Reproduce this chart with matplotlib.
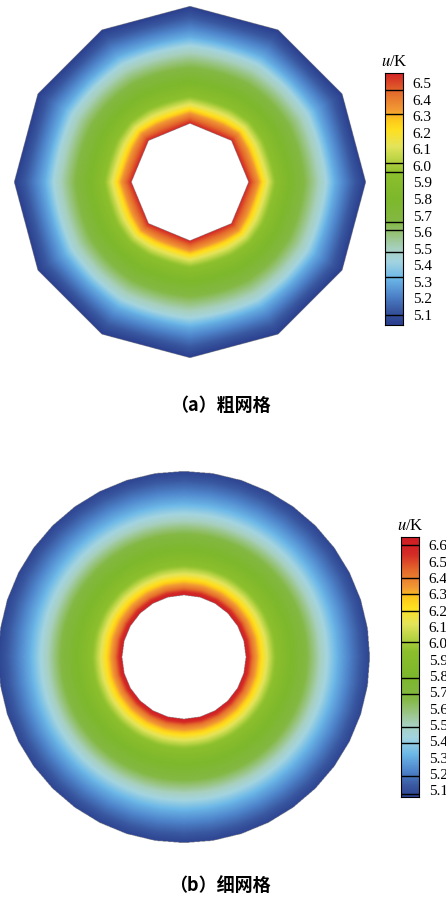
import numpy as np
import matplotlib
matplotlib.use("Agg")
import matplotlib.pyplot as plt
import matplotlib.tri as mtri
from matplotlib.colors import LinearSegmentedColormap, Normalize

plt.rcParams['mathtext.fontset'] = 'stix'

# --- radial temperature profile (s = 0 inner wall, 1 outer wall)
coarse_s = [0.0, 0.09, 0.14, 0.23, 0.35, 0.49, 0.66, 0.75, 0.87, 1.0]
coarse_u = [6.56, 6.35, 6.20, 5.97, 5.82, 5.66, 5.45, 5.30, 5.17, 5.04]
fine_s = [0.0, 0.06, 0.14, 0.23, 0.35, 0.48, 0.63, 0.74, 0.87, 1.0]
fine_u = [6.65, 6.42, 6.20, 5.97, 5.82, 5.68, 5.46, 5.31, 5.18, 5.06]

# polygon sides of the inner / outer boundary
coarse_sides = (8, 12)
fine_sides = (24, 40)

# colorbar ranges, contour-level lines and labels
coarse_range = (5.04, 6.56)
coarse_levels = [6.46, 6.31, 6.015, 5.96, 5.66, 5.61, 5.48, 5.33, 5.10]
coarse_ticks = [6.5, 6.4, 6.3, 6.2, 6.1, 6.0, 5.9, 5.8, 5.7, 5.6, 5.5, 5.4, 5.3, 5.2, 5.1]
fine_range = (5.06, 6.65)
fine_levels = [6.60, 6.40, 6.30, 6.20, 6.006, 5.79, 5.69, 5.49, 5.39, 5.19, 5.08]
fine_ticks = [6.6, 6.5, 6.4, 6.3, 6.2, 6.1, 6.0, 5.9, 5.8, 5.7, 5.6, 5.5, 5.4, 5.3, 5.2, 5.1]

captions = ["（a）粗网格", "（b）细网格"]

# Tecplot-like palette, stops given in absolute u
cmap_u = [5.04, 5.12, 5.22, 5.32, 5.42, 5.50, 5.58, 5.66, 5.80, 5.95,
          6.02, 6.12, 6.22, 6.28, 6.34, 6.45, 6.55, 6.66]
cmap_c = ['#2b3f8e', '#38569f', '#4f86cc', '#6cb8e8', '#a3d4e0', '#a8d0c0',
          '#98c480', '#84b844', '#7db82c', '#8cbf2c', '#b0d040', '#e4e45a',
          '#ffe020', '#fdc81a', '#f29a34', '#e46a2c', '#d42a26', '#d01c24']
U_LO, U_HI = cmap_u[0], cmap_u[-1]
cmap = LinearSegmentedColormap.from_list(
    'tec', [((u - U_LO) / (U_HI - U_LO), c) for u, c in zip(cmap_u, cmap_c)], N=512)
norm = Normalize(U_LO, U_HI)

R_IN, R_OUT = 1.0, 3.0


def poly_radius(theta, n, R):
    # distance from centre to a regular n-gon edge (vertex pointing up)
    step = 2 * np.pi / n
    t = np.mod(theta - np.pi / 2, step) - step / 2
    return R * np.cos(np.pi / n) / np.cos(t)


def draw_ring(ax, s_vals, u_vals, sides):
    theta = np.deg2rad(np.arange(0, 360, 1.5))
    n_t = len(theta)
    r_in = poly_radius(theta, sides[0], R_IN)
    r_out = poly_radius(theta, sides[1], R_OUT)
    xs, ys, us = [], [], []
    for s, u in zip(s_vals, u_vals):
        r_poly = (1 - s) * r_in + s * r_out
        r_circ = (1 - s) * R_IN * np.cos(np.pi / sides[0]) ** 0.5 + s * R_OUT * np.cos(np.pi / sides[1]) ** 0.5
        w = 0.7 * np.sin(np.pi * s)          # interior iso-lines are rounder
        r = (1 - w) * r_poly + w * r_circ
        xs.append(r * np.cos(theta))
        ys.append(r * np.sin(theta))
        us.append(np.full(n_t, u))
    x = np.concatenate(xs); y = np.concatenate(ys); z = np.concatenate(us)
    tris = []
    for i in range(len(s_vals) - 1):
        for j in range(n_t):
            a = i * n_t + j
            b = i * n_t + (j + 1) % n_t
            c = (i + 1) * n_t + j
            d = (i + 1) * n_t + (j + 1) % n_t
            tris.append([a, b, d])
            tris.append([a, d, c])
    tri = mtri.Triangulation(x, y, np.array(tris))
    # sample the linear (per-element) field on a fine grid
    interp = mtri.LinearTriInterpolator(tri, z)
    g = np.linspace(-R_OUT, R_OUT, 900)
    gx, gy = np.meshgrid(g, g)
    field = interp(gx, gy)
    ax.imshow(field, extent=[-R_OUT, R_OUT, -R_OUT, R_OUT], origin='lower',
              cmap=cmap, norm=norm, interpolation='bilinear')
    ax.set_xlim(-R_OUT, R_OUT)
    ax.set_ylim(-R_OUT, R_OUT)
    ax.set_aspect('equal')
    ax.axis('off')


def draw_cbar(cax, vrange, levels, ticks):
    lo, hi = vrange
    grad = np.linspace(lo, hi, 300)[:, None]
    cax.imshow(grad, extent=[0, 1, lo, hi], origin='lower', aspect='auto',
               cmap=cmap, norm=norm)
    for lv in levels:
        cax.axhline(lv, color='black', lw=1.0)
    cax.set_ylim(lo, hi)
    cax.set_xlim(0, 1)
    cax.set_xticks([])
    cax.yaxis.tick_right()
    cax.set_yticks(ticks)
    cax.set_yticklabels([f"{t:.1f}" for t in ticks], family='Liberation Serif',
                        fontsize=11)
    cax.tick_params(axis='y', length=0, pad=7)
    for sp in cax.spines.values():
        sp.set_linewidth(0.8)
    cax.set_title(r'$u$/K', fontsize=12, family='Liberation Serif', pad=5)


fig = plt.figure(figsize=(4.46, 9.00), dpi=100)

ax1 = fig.add_axes([14 / 446, 1 - 358 / 900, 352 / 446, 352 / 900])
draw_ring(ax1, coarse_s, coarse_u, coarse_sides)
cax1 = fig.add_axes([385 / 446, 1 - 325 / 900, 18 / 446, 252 / 900])
draw_cbar(cax1, coarse_range, coarse_levels, coarse_ticks)

ax2 = fig.add_axes([-2 / 446, 1 - 843 / 900, 372 / 446, 372 / 900])
draw_ring(ax2, fine_s, fine_u, fine_sides)
cax2 = fig.add_axes([401 / 446, 1 - 797 / 900, 18 / 446, 260 / 900])
draw_cbar(cax2, fine_range, fine_levels, fine_ticks)

cap_font = ['Noto Sans CJK SC', 'DejaVu Sans']
fig.text(220 / 446, 1 - 405 / 900, captions[0], ha='center', va='center',
         fontsize=13, fontweight='bold', family=cap_font)
fig.text(220 / 446, 1 - 885 / 900, captions[1], ha='center', va='center',
         fontsize=13, fontweight='bold', family=cap_font)

fig.savefig("out.png", dpi=100)
